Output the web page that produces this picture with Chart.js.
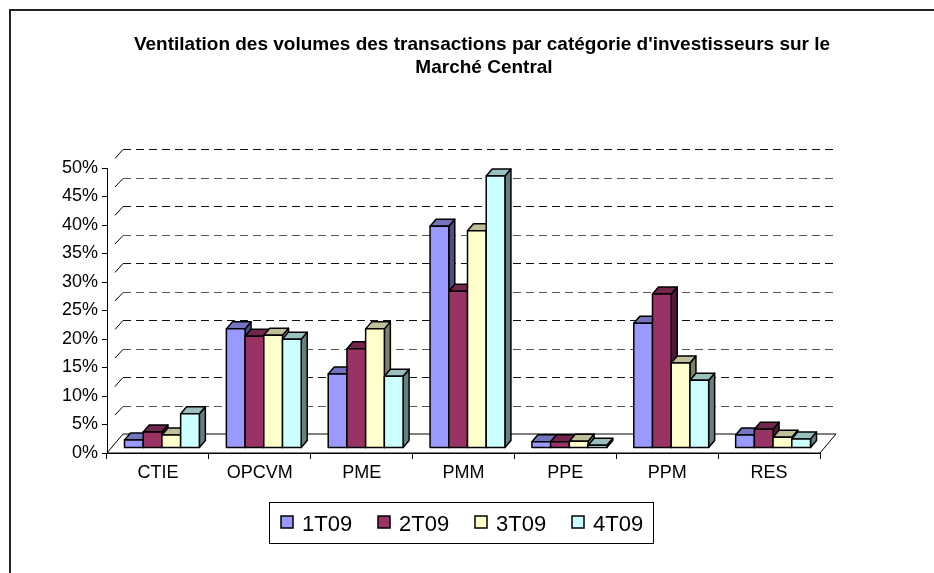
<!DOCTYPE html>
<html><head><meta charset="utf-8">
<script src="https://cdn.jsdelivr.net/npm/chart.js@4.4.0/dist/chart.umd.min.js"></script>
<style>html,body{margin:0;padding:0;background:#fff;}canvas{display:block;}</style>
</head><body>
<canvas id="c" width="934" height="573"></canvas>
<script>
const titleLines = ["Ventilation des volumes des transactions par catégorie d'investisseurs sur le", "Marché Central"];
const categories = ['CTIE', 'OPCVM', 'PME', 'PMM', 'PPE', 'PPM', 'RES'];
const seriesLabels = ['1T09', '2T09', '3T09', '4T09'];
const s1T09 = [1.4, 20.9, 13.0, 38.9, 1.1, 21.9, 2.3];
const s2T09 = [2.8, 19.6, 17.4, 27.5, 1.1, 27.0, 3.3];
const s3T09 = [2.3, 19.8, 20.9, 38.1, 1.2, 14.9, 1.9];
const s4T09 = [6.0, 19.1, 12.6, 47.7, 0.5, 11.9, 1.6];
const yTickLabels = ['0%', '5%', '10%', '15%', '20%', '25%', '30%', '35%', '40%', '45%', '50%'];
const seriesColors = ['#9999FF', '#993366', '#FFFFCC', '#CCFFFF'];

const FONT = '"Liberation Sans", Arial, sans-serif';
const FLOOR = {dx: 16, dy: 19};
const BAR = {dx: 6, dy: 7, ox: 4, oy: -5};

function shade(hex, f) {
  const n = parseInt(hex.slice(1), 16);
  const r = Math.round(((n >> 16) & 255) * f), g = Math.round(((n >> 8) & 255) * f), b = Math.round((n & 255) * f);
  return `rgb(${r},${g},${b})`;
}

const threeD = {
  id: 'threeD',
  beforeDatasetsDraw(chart) {
    const {ctx, chartArea: a, scales: {x, y}} = chart;
    ctx.save();
    const y0 = y.getPixelForValue(0);
    // floor
    ctx.beginPath();
    ctx.moveTo(a.left, y0); ctx.lineTo(a.right, y0);
    ctx.lineTo(a.right + FLOOR.dx, y0 - FLOOR.dy); ctx.lineTo(a.left + FLOOR.dx, y0 - FLOOR.dy);
    ctx.closePath();
    ctx.fillStyle = '#fff'; ctx.fill();
    ctx.strokeStyle = '#000'; ctx.lineWidth = 1; ctx.stroke();
    // back wall gridlines
    ctx.lineWidth = 1;
    y.ticks.forEach((t, i) => {
      if (t.value === 0) return;
      const yy = y.getPixelForValue(t.value);
      const yb = Math.round(yy - FLOOR.dy) + 0.5;
      ctx.setLineDash([8, 5]);
      ctx.strokeStyle = i % 2 ? '#555' : '#111';
      ctx.beginPath(); ctx.moveTo(a.left + FLOOR.dx, yb); ctx.lineTo(a.right + FLOOR.dx, yb); ctx.stroke();
      ctx.setLineDash([]);
      ctx.strokeStyle = '#000';
      ctx.beginPath(); ctx.moveTo(a.left + FLOOR.dx / 2, yy - FLOOR.dy / 2); ctx.lineTo(a.left + FLOOR.dx, yb); ctx.stroke();
    });
    // bars
    const bars = [];
    chart.data.datasets.forEach((ds, i) => {
      const meta = chart.getDatasetMeta(i);
      meta.data.forEach(el => {
        const p = el.getProps(['x', 'y', 'base', 'width'], true);
        bars.push({p, color: ds.backgroundColor});
      });
    });
    bars.sort((a1, b1) => a1.p.x - b1.p.x);
    ctx.lineWidth = 1.5; ctx.lineJoin = 'round'; ctx.strokeStyle = '#000';
    bars.forEach(({p, color}) => {
      const l = p.x - p.width / 2 + BAR.ox, r = p.x + p.width / 2 + BAR.ox;
      const t = p.y + BAR.oy, b = p.base + BAR.oy;
      ctx.beginPath();
      ctx.moveTo(r, b); ctx.lineTo(r + BAR.dx, b - BAR.dy); ctx.lineTo(r + BAR.dx, t - BAR.dy); ctx.lineTo(r, t); ctx.closePath();
      ctx.fillStyle = shade(color, 0.5); ctx.fill(); ctx.stroke();
      ctx.beginPath();
      ctx.moveTo(l, t); ctx.lineTo(r, t); ctx.lineTo(r + BAR.dx, t - BAR.dy); ctx.lineTo(l + BAR.dx, t - BAR.dy); ctx.closePath();
      ctx.fillStyle = shade(color, 0.75); ctx.fill(); ctx.stroke();
      ctx.beginPath(); ctx.rect(l, t, r - l, b - t);
      ctx.fillStyle = color; ctx.fill(); ctx.stroke();
    });
    ctx.restore();
    return false;
  },
  afterDraw(chart) {
    const ctx = chart.ctx;
    ctx.save();
    ctx.strokeStyle = '#222'; ctx.lineWidth = 2;
    ctx.beginPath(); ctx.moveTo(10, 573); ctx.lineTo(10, 10); ctx.lineTo(934, 10); ctx.stroke();
    ctx.fillStyle = '#000'; ctx.textAlign = 'center'; ctx.textBaseline = 'alphabetic';
    ctx.font = 'bold 19px ' + FONT;
    ctx.fillText(titleLines[0], 482, 50);
    ctx.fillText(titleLines[1], 484, 73);
    ctx.lineWidth = 1; ctx.strokeStyle = '#000';
    ctx.strokeRect(269.5, 502.5, 384, 41);
    ctx.font = '22px ' + FONT; ctx.textAlign = 'left';
    chart.data.datasets.forEach((ds, i) => {
      const mx = 281 + i * 97;
      ctx.fillStyle = ds.backgroundColor;
      ctx.fillRect(mx, 516, 12, 12);
      ctx.lineWidth = 1.5; ctx.strokeRect(mx, 516, 12, 12);
      ctx.fillStyle = '#000';
      ctx.fillText(ds.label, mx + 21, 531);
    });
    ctx.restore();
  }
};

const seriesData = [s1T09, s2T09, s3T09, s4T09];
new Chart(document.getElementById('c'), {
  type: 'bar',
  data: {
    labels: categories,
    datasets: seriesLabels.map((lab, i) => ({
      label: lab, data: seriesData[i], backgroundColor: seriesColors[i],
      borderColor: '#000', borderWidth: 1.5,
      categoryPercentage: 0.735, barPercentage: 1
    }))
  },
  options: {
    responsive: false, animation: false, devicePixelRatio: 1,
    layout: {padding: {top: 168, right: 114, bottom: 0, left: 0}},
    plugins: {legend: {display: false}, title: {display: false}, tooltip: {enabled: false}},
    scales: {
      x: {
        afterFit: s => { s.height = 120; },
        grid: {offset: true, drawOnChartArea: false, drawTicks: true, tickLength: 6, color: '#000'},
        border: {color: '#000', width: 1},
        ticks: {color: '#000', font: {family: FONT, size: 18}, padding: 3}
      },
      y: {
        min: 0, max: 50,
        afterFit: s => { s.width = 107; },
        grid: {drawOnChartArea: false, drawTicks: true, tickLength: 5, color: '#000'},
        border: {color: '#000', width: 1},
        ticks: {stepSize: 5, color: '#000', font: {family: FONT, size: 18}, padding: 4,
          callback: (v, i) => yTickLabels[i]}
      }
    }
  },
  plugins: [threeD]
});
</script>
</body></html>
